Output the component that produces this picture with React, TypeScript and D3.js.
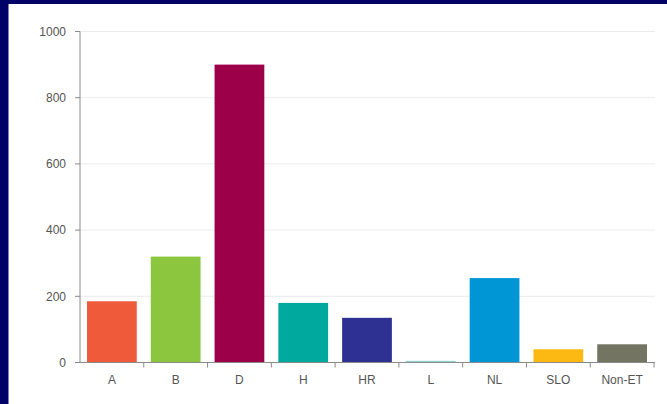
import React from "react";
import * as d3 from "d3";

const categories = ["A", "B", "D", "H", "HR", "L", "NL", "SLO", "Non-ET"];
const values = [185, 320, 900, 180, 135, 5, 255, 40, 55];
const colors = ["#ef5a3b", "#8cc63f", "#9b0048", "#00a99d", "#2e3192", "#8fd6d0", "#0096d6", "#fdb913", "#737562"];
const yTicks = [0, 200, 400, 600, 800, 1000];

export default function App() {
  const W = 667, H = 404;
  const x = d3.scaleBand<string>().domain(categories).range([80, 654]).paddingInner(0.22).paddingOuter(0.11);
  const y = d3.scaleLinear().domain([0, 1000]).range([362.5, 31.5]);
  const step = x.step();
  const font = "'Liberation Sans', Arial, sans-serif";
  return (
    <svg width={W} height={H} style={{ position: "absolute", left: 0, top: 0 }}>
      <rect x={0} y={0} width={W} height={H} fill="#ffffff" />
      <rect x={0} y={0} width={W} height={4} fill="#000066" />
      <rect x={0} y={0} width={8.5} height={H} fill="#000066" />
      {yTicks.filter(t => t > 0).map(t => (
        <line key={"g" + t} x1={80} x2={655} y1={y(t)} y2={y(t)} stroke="#ececec" strokeWidth={1} />
      ))}
      {categories.map((c, i) => (
        <rect key={c} x={x(c)} y={y(values[i])} width={x.bandwidth()} height={y(0) - y(values[i])} fill={colors[i]} />
      ))}
      <line x1={80} x2={80} y1={y(1000)} y2={y(0)} stroke="#8a8a8a" strokeWidth={1} />
      <line x1={75} x2={655} y1={y(0)} y2={y(0)} stroke="#8a8a8a" strokeWidth={1} />
      {yTicks.map(t => (
        <g key={"t" + t}>
          <line x1={75} x2={80} y1={y(t)} y2={y(t)} stroke="#8a8a8a" strokeWidth={1} />
          <text x={66} y={y(t)} dy="0.35em" textAnchor="end" fontFamily={font} fontSize={12} fill="#555">{t}</text>
        </g>
      ))}
      {categories.map((c, i) => (
        <line key={"xt" + c} x1={80 + step * (i + 1) + (0)} x2={80 + step * (i + 1)} y1={y(0)} y2={y(0) + 5} stroke="#8a8a8a" strokeWidth={1} />
      ))}
      {categories.map(c => (
        <text key={"xl" + c} x={(x(c) as number) + x.bandwidth() / 2} y={380} dy="0.35em" textAnchor="middle" fontFamily={font} fontSize={12} fill="#555">{c}</text>
      ))}
    </svg>
  );
}
